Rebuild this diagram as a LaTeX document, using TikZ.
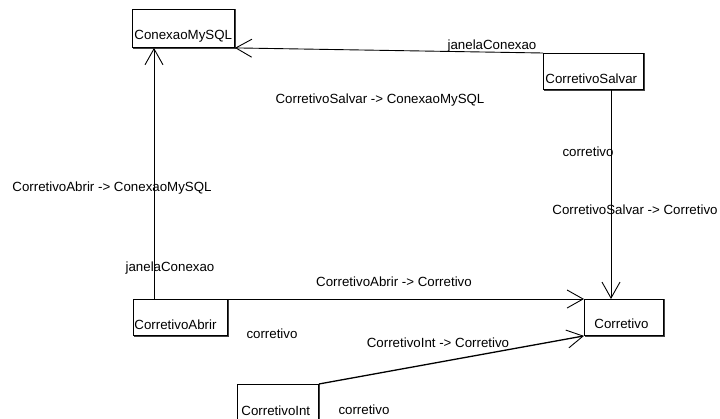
\documentclass[tikz,border=0pt]{standalone}
\usepackage{fontspec}
\setmainfont{Liberation Sans}
\usetikzlibrary{arrows.meta}

\begin{document}
\begin{tikzpicture}[x=1pt,y=-1pt,
  every node/.style={font=\fontsize{13.3}{15}\selectfont},
  box/.style={draw, line width=0.9pt, inner ysep=0pt, align=left, anchor=north west},
  lbl/.style={inner sep=0pt},
  assoc/.style={line width=0.9pt},
  nav/.style={assoc, -{Straight Barb[length=16pt,width=18pt,line width=0.9pt]}},
  shadowline/.style={line width=0.9pt, black!75},
]
\clip (0,0) rectangle (720,418);
\fill[white] (0,0) rectangle (720,418);

% classes
\node[box, inner xsep=2pt, text width=98pt, text height=30.3pt, text depth=7.7pt]
  (con) at (132,9) {ConexaoMySQL};
\node[box, inner xsep=2pt, text width=96pt, text height=30.5pt, text depth=5.5pt]
  (sal) at (543,53) {CorretivoSalvar};
\node[box, inner xsep=10pt, text width=59pt, text height=29.5pt, text depth=6.5pt]
  (cor) at (584,299) {Corretivo};
\node[box, inner xsep=1pt, text width=92pt, text height=30pt, text depth=6pt]
  (abr) at (133,299) {CorretivoAbrir};
\node[box, inner xsep=4pt, text width=73pt, text height=31.5pt, text depth=8.5pt]
  (int) at (237,384) {CorretivoInt};

% darker bottom/right edges of the class boxes
\foreach \n in {con,sal,cor,abr,int}{
  \draw[shadowline] ([shift={(1pt,0pt)}]\n.north east)
    -- ([shift={(1pt,-1pt)}]\n.south east)
    -- ([shift={(1pt,-1pt)}]\n.south west);
}

% associations
\draw[nav] (sal.north west) -- (con.south east);
\coordinate (abrtop) at ([xshift=21pt]abr.north west);
\draw[nav] (abrtop) -- (abrtop |- con.south);
\draw[nav] (abr.north east) -- (cor.north west);
\coordinate (saldown) at ([xshift=68pt]sal.south west);
\draw[nav] (saldown) -- (saldown |- cor.north);
\draw[nav, line width=1.3pt] (int.north east) -- (cor.south west);

% role names and association names
\node[lbl] (l1) at (492,46) {janelaConexao};
\node[lbl] (l2) at (380,100) {CorretivoSalvar -> ConexaoMySQL};
\node[lbl] (l3) at (112,188) {CorretivoAbrir -> ConexaoMySQL};
\node[lbl] (l4) at (170,268) {janelaConexao};
\node[lbl] (l5) at (394,282) {CorretivoAbrir -> Corretivo};
\node[lbl] (l6) at (272,334) {corretivo};
\node[lbl] (l7) at (588,152) {corretivo};
\node[lbl] (l8) at (635,210) {CorretivoSalvar -> Corretivo};
\node[lbl] (l9) at (438,343) {CorretivoInt -> Corretivo};
\node[lbl] (l10) at (364,410) {corretivo};
\end{tikzpicture}
\end{document}
